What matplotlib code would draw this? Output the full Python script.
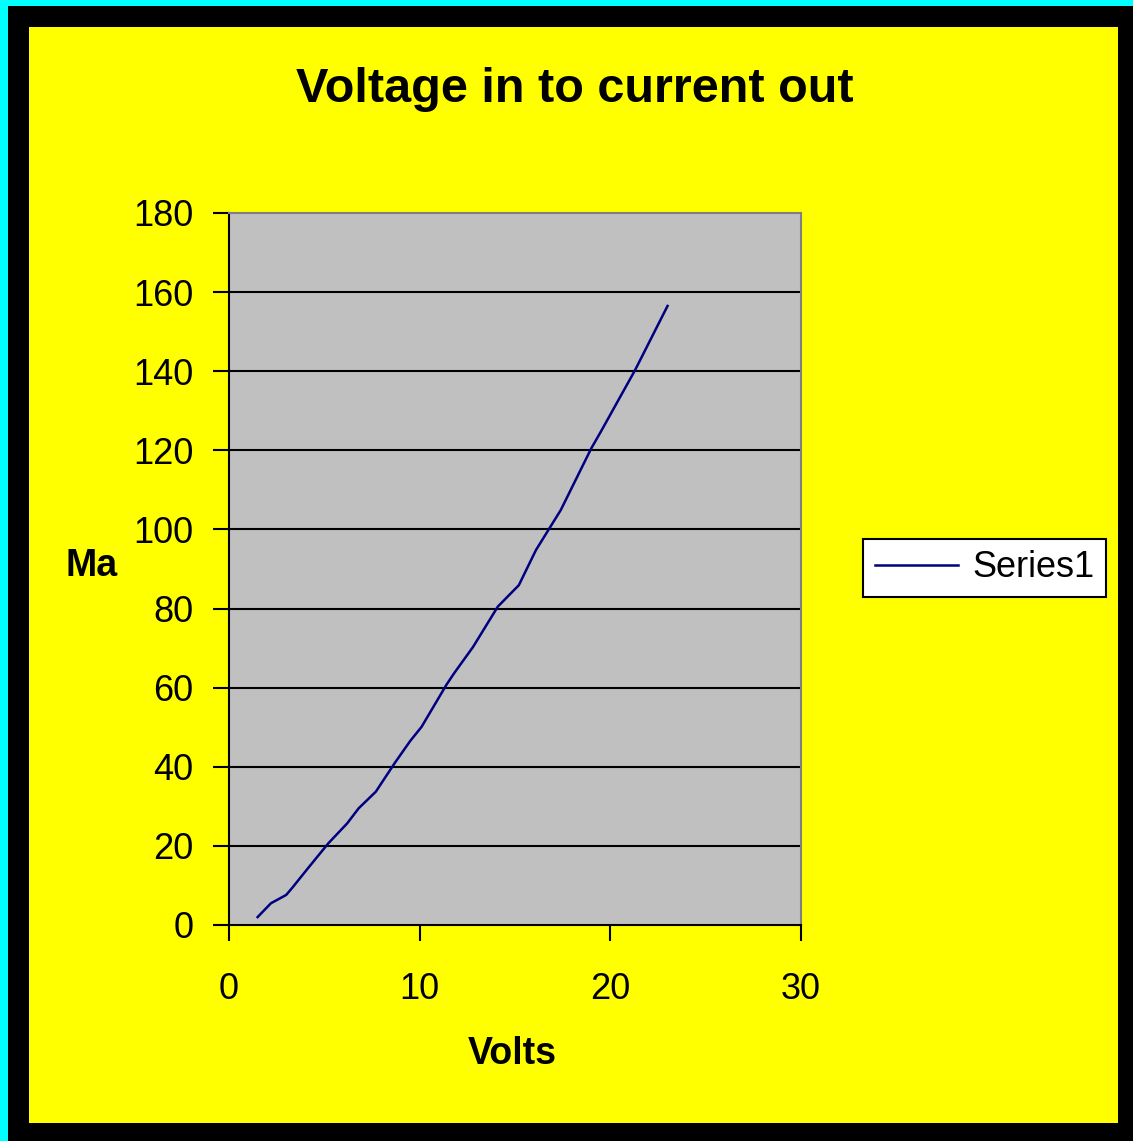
import matplotlib.pyplot as plt
from matplotlib.patches import Rectangle

# measured input voltage vs output current
volts = [1.5, 2.2, 3.0, 3.3, 4.2, 5.2, 6.2, 6.8, 7.7, 8.7, 9.5, 10.1, 11.4, 11.8,
         12.8, 14.1, 15.2, 16.1, 17.4, 19.0, 19.5, 21.3, 23.0]
ma = [2.0, 5.5, 7.6, 9.3, 14.7, 20.6, 25.7, 29.5, 33.7, 41.0, 46.5, 50.1, 60.7, 63.6,
      70.3, 80.5, 85.9, 94.8, 104.9, 120.5, 124.7, 140.3, 156.5]
xticks = [0, 10, 20, 30]
yticks = [0, 20, 40, 60, 80, 100, 120, 140, 160, 180]

plt.rcParams['font.family'] = ['Liberation Sans', 'DejaVu Sans']

W, H = 1133, 1141
fig = plt.figure(figsize=(W / 100, H / 100), dpi=100)
fig.patch.set_facecolor('#00ffff')

def px_rect(x0, y0, x1, y1, color):
    # rectangle given in pixel coords from the top-left corner
    fig.patches.append(Rectangle((x0 / W, 1 - y1 / H), (x1 - x0) / W, (y1 - y0) / H,
                                 transform=fig.transFigure, facecolor=color,
                                 edgecolor='none', zorder=-10))

px_rect(8, 6, W, H, 'black')
px_rect(29, 27, 1118, 1123, '#ffff00')

ax = fig.add_axes([229 / W, 1 - 925 / H, (801 - 229) / W, (925 - 213) / H])
ax.set_facecolor('#c0c0c0')
ax.plot(volts, ma, color='#000080', lw=1.8, label='Series1')

ax.set_xlim(0, 30)
ax.set_ylim(0, 180)
ax.set_xticks(xticks)
ax.set_yticks(yticks)
for y in yticks[1:-1]:
    ax.axhline(y, color='black', lw=1.5, zorder=1)

ax.tick_params(direction='out', length=11.5, width=1.5, labelsize=26,
               colors='black')
ax.tick_params(axis='y', pad=14)
ax.tick_params(axis='x', pad=22)
ax.spines['left'].set_linewidth(1.5)
ax.spines['bottom'].set_linewidth(1.5)
ax.spines['top'].set_color('#808080')
ax.spines['right'].set_color('#808080')
ax.spines['top'].set_linewidth(1.5)
ax.spines['right'].set_linewidth(1.5)

fig.text(575 / W, 1 - 89 / H, 'Voltage in to current out', ha='center', va='center',
         fontsize=35, fontweight='bold')
fig.text(92 / W, 1 - 566 / H, 'Ma', ha='center', va='center',
         fontsize=27, fontweight='bold')
fig.text(512 / W, 1 - 1054 / H, 'Volts', ha='center', va='center',
         fontsize=27, fontweight='bold')

leg = ax.legend(loc='center left', bbox_to_anchor=(863 / W, 1 - 568 / H),
                bbox_transform=fig.transFigure, fontsize=26, frameon=True,
                fancybox=False, handlelength=2.3, handletextpad=0.4,
                borderpad=0.32, borderaxespad=0)
leg.get_frame().set_edgecolor('black')
leg.get_frame().set_linewidth(1.5)
leg.get_frame().set_facecolor('white')
leg.get_frame().set_alpha(1)

fig.savefig('out.png', dpi=100, facecolor=fig.get_facecolor())
